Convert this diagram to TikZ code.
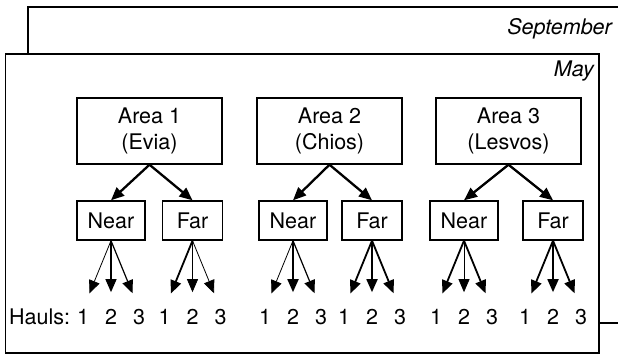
\documentclass[tikz,border=0pt]{standalone}
\usepackage{fontspec}
\setmainfont{TeX Gyre Heros}
\usetikzlibrary{arrows.meta}
\begin{document}
\begin{tikzpicture}[x=1pt,y=-1pt,
  area/.style={draw,line width=1.4pt,minimum width=145pt,minimum height=66pt,align=center,inner sep=0pt,font=\fontsize{21.5}{26}\selectfont},
  sub/.style={draw,line width=1.4pt,minimum height=39pt,inner sep=0pt,font=\fontsize{21.5}{24}\selectfont},
  nearb/.style={sub,minimum width=68pt},
  farb/.style={sub,minimum width=60pt},
  num/.style={inner sep=0pt,font=\fontsize{21.5}{24}\selectfont},
  month/.style={inner sep=0pt,font=\fontsize{21.5}{24}\selectfont\itshape},
  tip/.style={-{Triangle[width=11pt,length=13pt]},shorten >=17pt},
  br/.style={-{Triangle[width=11pt,length=13pt]},line width=2.3pt},
  thn/.style={tip,line width=0.8pt},
  mid/.style={tip,line width=1.2pt},
  thk/.style={tip,line width=1.8pt}
]
\useasboundingbox (0,0) rectangle (618,355);
% September frame (behind)
\draw[line width=1.4pt] (28,7) rectangle (660,323);
\node[month,anchor=east] (sep) at (612,29) {September};
% May frame
\draw[line width=1.5pt,fill=white] (5.5,54) rectangle (599,353);
\node[month,anchor=east] (may) at (594,71) {May};
% Areas
\node[area] (a1) at (149.5,131) {Area 1\\(Evia)};
\node[area] (a2) at (329.5,131) {Area 2\\(Chios)};
\node[area] (a3) at (508.5,131) {Area 3\\(Lesvos)};
% Near / Far
\node[nearb] (n1) at (111,220.5) {Near};
\node[farb]  (f1) at (192.5,220.5) {Far};
\node[nearb] (n2) at (293,220.5) {Near};
\node[farb]  (f2) at (372,220.5) {Far};
\node[nearb] (n3) at (464,220.5) {Near};
\node[farb]  (f3) at (553,220.5) {Far};
\foreach \a/\n/\f in {a1/n1/f1,a2/n2/f2,a3/n3/f3}{
  \draw[br] (\a.south) -- (\n.north);
  \draw[br] (\a.south) -- (\f.north);
}
% Hauls
\node[num,anchor=west] (hl) at (9,317) {Hauls:};
\foreach \p/\x in {n1/111,f1/192.5,n2/293,f2/372,n3/464,f3/553}{
  \node[num] (\p h1) at (\x-28,317) {1};
  \node[num] (\p h2) at (\x,317) {2};
  \node[num] (\p h3) at (\x+28,317) {3};
}
\draw[thn] (n1.south) -- (n1h1.north);
\draw[mid] (n1.south) -- (n1h2.north);
\draw[mid] (n1.south) -- (n1h3.north);
\draw[thk] (f1.south) -- (f1h1.north);
\draw[thn] (f1.south) -- (f1h2.north);
\draw[thn] (f1.south) -- (f1h3.north);
\draw[thn] (n2.south) -- (n2h1.north);
\draw[thk] (n2.south) -- (n2h2.north);
\draw[mid] (n2.south) -- (n2h3.north);
\draw[thk] (f2.south) -- (f2h1.north);
\draw[thk] (f2.south) -- (f2h2.north);
\draw[thk] (f2.south) -- (f2h3.north);
\draw[thk] (n3.south) -- (n3h1.north);
\draw[thn] (n3.south) -- (n3h2.north);
\draw[thk] (n3.south) -- (n3h3.north);
\draw[thk] (f3.south) -- (f3h1.north);
\draw[thk] (f3.south) -- (f3h2.north);
\draw[thk] (f3.south) -- (f3h3.north);
\end{tikzpicture}
\end{document}
